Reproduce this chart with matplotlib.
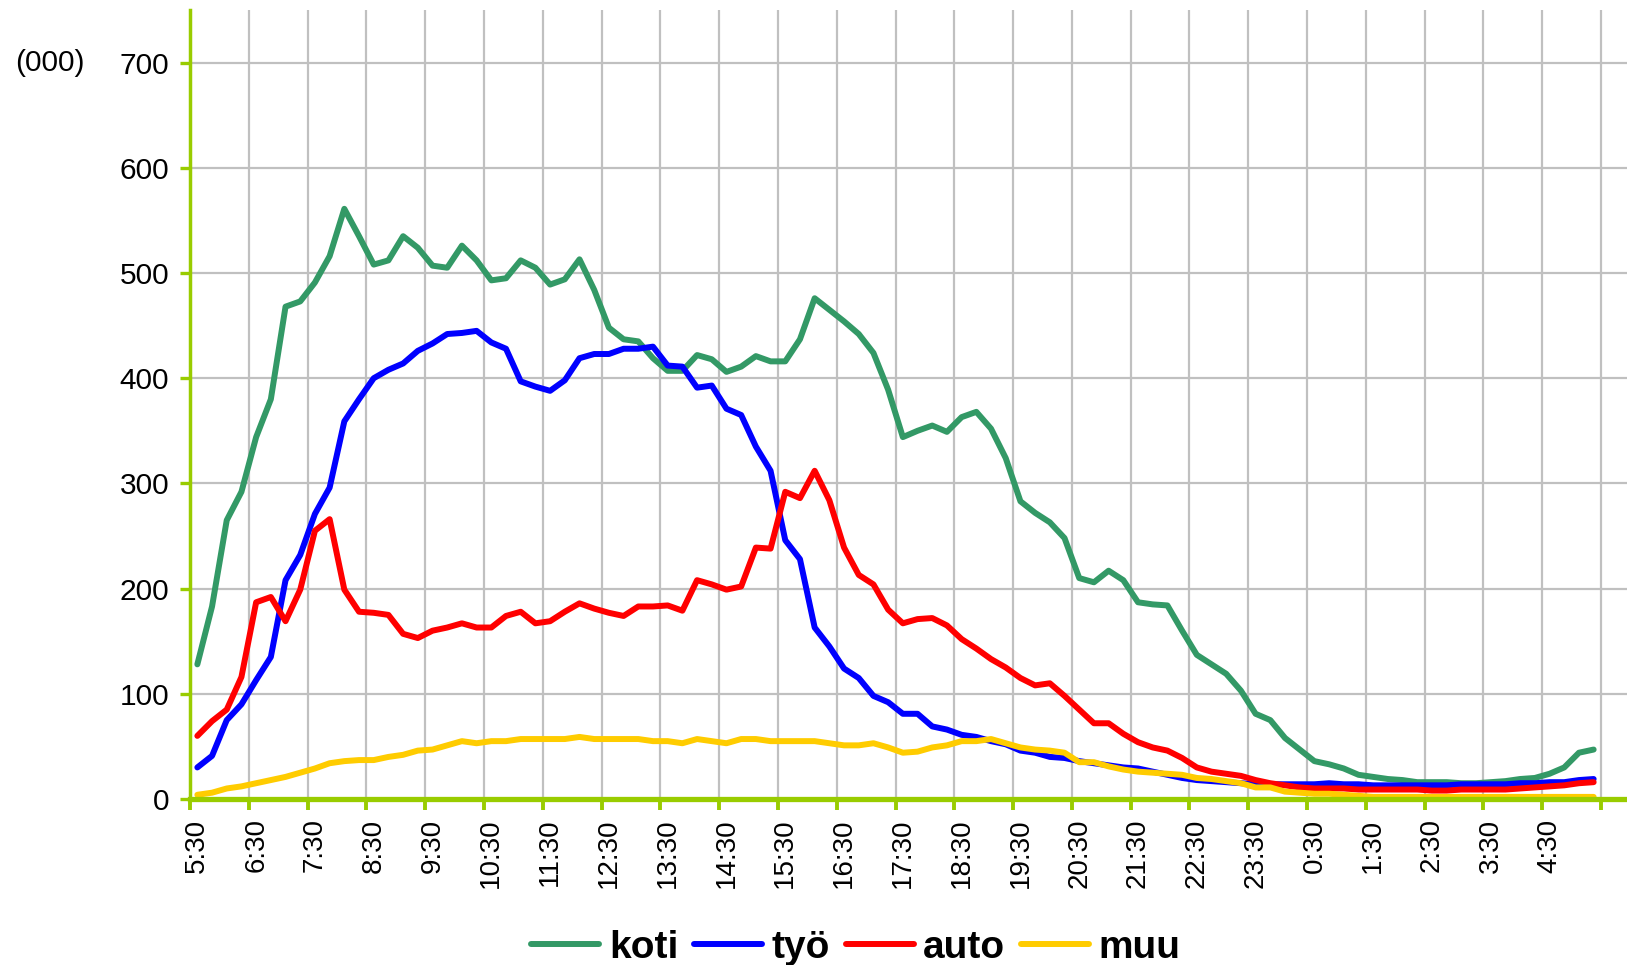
"""
plot.py
=======

Ihmisten sijainti vuorokauden aikana (koti, työ, auto, muu),
15 minuutin välein klo 5:30 alkaen. Arvot tuhansina.
"""

import numpy as np
import matplotlib

matplotlib.use("Agg")

import matplotlib.pyplot as plt
from matplotlib.ticker import FixedLocator, FixedFormatter, NullFormatter
from matplotlib.transforms import blended_transform_factory

# -------------------------------------------------------
# DATOS
# -------------------------------------------------------

ETIQUETAS_HORA = [
    "5:30", "6:30", "7:30", "8:30", "9:30", "10:30", "11:30", "12:30",
    "13:30", "14:30", "15:30", "16:30", "17:30", "18:30", "19:30", "20:30",
    "21:30", "22:30", "23:30", "0:30", "1:30", "2:30", "3:30", "4:30",
]

KOTI = [
    128, 183, 265, 292, 344, 380, 468, 473, 491, 516, 561, 535, 508, 512, 535, 524,
    507, 505, 526, 512, 493, 495, 512, 505, 489, 494, 513, 484, 448, 437, 435, 419,
    407, 407, 422, 418, 406, 411, 421, 416, 416, 437, 476, 465, 454, 442, 424, 389,
    344, 350, 355, 349, 363, 368, 352, 324, 283, 272, 263, 248, 210, 206, 217, 208,
    187, 185, 184, 160, 137, 128, 119, 103, 81, 75, 58, 47, 36, 33, 29, 23,
    21, 19, 18, 16, 16, 16, 15, 15, 16, 17, 19, 20, 24, 30, 44, 47,
]

TYO = [
    30, 41, 75, 90, 113, 135, 208, 232, 271, 296, 359, 380, 400, 408, 414, 426,
    433, 442, 443, 445, 434, 428, 397, 392, 388, 398, 419, 423, 423, 428, 428, 430,
    412, 411, 391, 393, 371, 365, 335, 312, 246, 228, 163, 145, 124, 115, 98, 92,
    81, 81, 69, 66, 61, 59, 55, 52, 46, 44, 40, 39, 36, 34, 32, 30,
    29, 26, 23, 20, 18, 17, 16, 15, 14, 14, 14, 14, 14, 15, 14, 14,
    13, 13, 13, 13, 13, 13, 14, 14, 14, 14, 15, 15, 16, 16, 18, 19,
]

AUTO = [
    60, 74, 85, 116, 187, 192, 169, 199, 255, 266, 199, 178, 177, 175, 157, 153,
    160, 163, 167, 163, 163, 174, 178, 167, 169, 178, 186, 181, 177, 174, 183, 183,
    184, 179, 208, 204, 199, 202, 239, 238, 292, 286, 312, 284, 239, 213, 204, 180,
    167, 171, 172, 165, 152, 143, 133, 125, 115, 108, 110, 98, 85, 72, 72, 62,
    54, 49, 46, 39, 30, 26, 24, 22, 18, 15, 13, 11, 10, 10, 10, 9,
    9, 9, 9, 9, 8, 8, 9, 9, 9, 9, 10, 11, 12, 13, 15, 16,
]

MUU = [
    4, 6, 10, 12, 15, 18, 21, 25, 29, 34, 36, 37, 37, 40, 42, 46,
    47, 51, 55, 53, 55, 55, 57, 57, 57, 57, 59, 57, 57, 57, 57, 55,
    55, 53, 57, 55, 53, 57, 57, 55, 55, 55, 55, 53, 51, 51, 53, 49,
    44, 45, 49, 51, 55, 55, 57, 53, 49, 47, 46, 44, 35, 35, 31, 28,
    26, 25, 24, 23, 20, 19, 17, 15, 11, 11, 7, 6, 5, 5, 4, 3,
    2, 2, 2, 2, 2, 2, 2, 2, 2, 2, 2, 2, 2, 2, 2, 2,
]

NOMBRES = ["koti", "työ", "auto", "muu"]

COLORES = ["#339966", "#0000FF", "#FF0000", "#FFCC00"]

# -------------------------------------------------------
# CONFIGURACIÓN
# -------------------------------------------------------

VERDE_EJE = "#99CC00"

GRIS = "#C0C0C0"

ANCHO_PX = 1627
ALTO_PX = 965

plt.rcParams["font.family"] = ["Liberation Sans", "DejaVu Sans"]


def ejecutar():

    fig = plt.figure(figsize=(ANCHO_PX / 100, ALTO_PX / 100), dpi=100)

    izq = 190 / ANCHO_PX
    abajo = 1 - 799 / ALTO_PX
    arriba = 1 - 10 / ALTO_PX

    ax = fig.add_axes([izq, abajo, 1.0 - izq, arriba - abajo])

    x = np.arange(len(KOTI))

    for serie, nombre, color in zip([KOTI, TYO, AUTO, MUU], NOMBRES, COLORES):

        ax.plot(
            x,
            serie,
            color=color,
            linewidth=4.3,
            solid_capstyle="round",
            solid_joinstyle="round",
            label=nombre,
        )

    # ejes
    paso = 1411 / len(KOTI)
    ax.set_xlim(-0.5, -0.5 + (ANCHO_PX - 190) / paso)
    ax.set_ylim(0, 750)

    ax.xaxis.set_major_locator(FixedLocator(np.arange(-0.5, len(KOTI), 4)))
    ax.xaxis.set_major_formatter(NullFormatter())
    ax.xaxis.set_minor_locator(FixedLocator(np.arange(0, len(KOTI), 4)))
    ax.xaxis.set_minor_formatter(FixedFormatter(ETIQUETAS_HORA))

    ax.tick_params(
        axis="x",
        which="major",
        direction="out",
        length=8,
        width=2.8,
        color=VERDE_EJE,
    )
    ax.tick_params(
        axis="x",
        which="minor",
        length=0,
        pad=14,
        labelsize=20,
        labelrotation=90,
    )

    ax.set_yticks(np.arange(0, 701, 100))
    ax.tick_params(
        axis="y",
        direction="out",
        length=7,
        width=2.4,
        color=VERDE_EJE,
        pad=8,
        labelsize=21.5,
    )

    ax.grid(True, which="major", color=GRIS, linewidth=1.6)
    ax.set_axisbelow(True)

    for lado in ["top", "right"]:
        ax.spines[lado].set_visible(False)

    ax.spines["left"].set_color(VERDE_EJE)
    ax.spines["left"].set_linewidth(2.5)
    ax.spines["bottom"].set_color(VERDE_EJE)
    ax.spines["bottom"].set_linewidth(3.8)

    # unidad
    trans = blended_transform_factory(fig.transFigure, ax.transData)
    ax.text(
        15 / ANCHO_PX,
        700,
        "(000)",
        transform=trans,
        ha="left",
        va="center",
        fontsize=21.5,
    )

    # leyenda
    fig.legend(
        loc="center",
        bbox_to_anchor=(856 / ANCHO_PX, 1 - 948 / ALTO_PX),
        ncol=4,
        frameon=False,
        prop={"weight": "bold", "size": 28},
        handlelength=1.75,
        handletextpad=0.25,
        columnspacing=0.4,
        borderaxespad=0,
    )

    fig.savefig("out.png", dpi=100)

    plt.close(fig)


if __name__ == "__main__":

    ejecutar()
